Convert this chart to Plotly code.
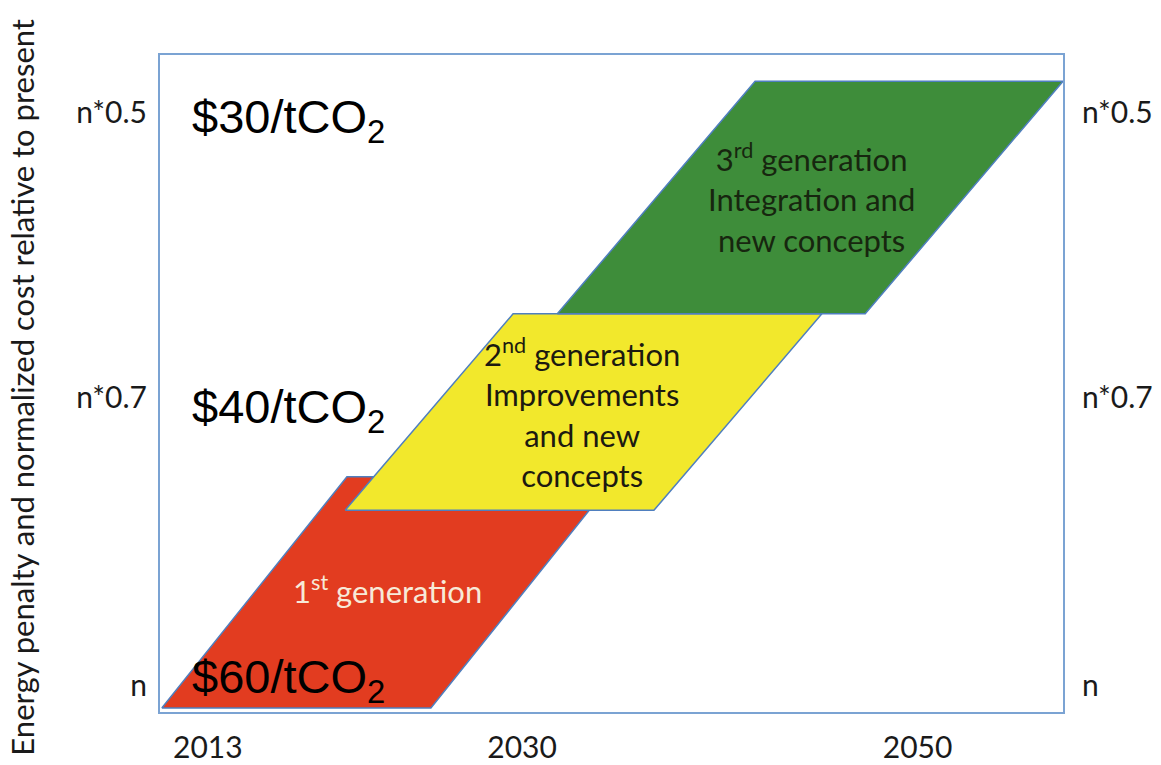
import plotly.graph_objects as go

# Technology generations drawn as slanted bands (x: time axis 0-100, y: cost axis 0-100)
gen_labels = [
    "1<sup>st</sup> generation",
    "2<sup>nd</sup> generation<br>Improvements<br>and new<br>concepts",
    "3<sup>rd</sup> generation<br>Integration and<br>new concepts",
]
gen_colors = ["#e23c20", "#f2e82c", "#3e8d3a"]
gen_text_colors = ["#f7ead8", "#1c1a10", "#17260f"]
base_y = [0.6, 30.7, 60.6]
top_y = [35.8, 60.6, 96.0]
base_left_x = [0.2, 20.5, 44.0]
top_left_x = [20.7, 39.1, 65.9]
band_width = [29.8, 34.2, 34.1]
label_x = [25.2, 46.7, 72.2]
label_y = [18.7, 45.5, 78.3]

# Axis ticks
year_ticks = [5.3, 40.1, 83.9]
year_labels = ["2013", "2030", "2050"]
cost_ticks = [4.0, 47.8, 91.3]
cost_labels = ["n", "n*0.7", "n*0.5"]

# Carbon price annotations
price_labels = ["$60/tCO<sub>2</sub>", "$40/tCO<sub>2</sub>", "$30/tCO<sub>2</sub>"]
price_y = [4.9, 46.0, 90.1]
price_x = 3.3

fig = go.Figure()

for i in range(len(gen_labels)):
    xs = [base_left_x[i], base_left_x[i] + band_width[i],
          top_left_x[i] + band_width[i], top_left_x[i], base_left_x[i]]
    ys = [base_y[i], base_y[i], top_y[i], top_y[i], base_y[i]]
    fig.add_trace(go.Scatter(
        x=xs, y=ys, mode="lines", fill="toself",
        fillcolor=gen_colors[i],
        line=dict(color="#4f7fbf", width=1.5),
        hoverinfo="skip", showlegend=False,
    ))
    fig.add_annotation(
        x=label_x[i], y=label_y[i], text=gen_labels[i], showarrow=False,
        font=dict(family="Lato", size=31, color=gen_text_colors[i]),
        xanchor="center", yanchor="middle", align="center",
    )

# invisible trace so the right-hand cost axis is drawn
fig.add_trace(go.Scatter(x=[0], y=[0], yaxis="y2", mode="markers",
                         marker=dict(opacity=0), hoverinfo="skip", showlegend=False))

for lbl, yv in zip(price_labels, price_y):
    fig.add_annotation(
        x=price_x, y=yv, text=lbl, showarrow=False,
        font=dict(family="Liberation Sans", size=47, color="#000000"),
        xanchor="left", yanchor="middle",
    )

fig.add_annotation(
    xref="paper", yref="paper", x=-0.153, y=0.495,
    text="Energy penalty and normalized cost relative to present",
    textangle=-90, showarrow=False,
    font=dict(family="Lato", size=31, color="#1a1a1a"),
    xanchor="center", yanchor="middle",
)

axis_font = dict(family="Lato", size=30, color="#1a1a1a")

fig.update_layout(
    template="none",
    width=1161, height=765,
    margin=dict(l=160, r=98, t=55, b=53, autoexpand=False),
    paper_bgcolor="#ffffff", plot_bgcolor="#ffffff",
    xaxis=dict(range=[0, 100], tickvals=year_ticks, ticktext=year_labels,
               showgrid=False, zeroline=False, showline=True, mirror=True,
               linecolor="#7ba3d3", linewidth=2, ticks="", tickfont=axis_font,
               ticklabelstandoff=8, automargin=False),
    yaxis=dict(range=[0, 100], tickvals=cost_ticks, ticktext=cost_labels,
               showgrid=False, zeroline=False, showline=True, mirror=True,
               linecolor="#7ba3d3", linewidth=2, ticks="", tickfont=axis_font,
               ticklabelstandoff=5, automargin=False),
    yaxis2=dict(range=[0, 100], tickvals=cost_ticks, ticktext=cost_labels,
                overlaying="y", side="right", showgrid=False, zeroline=False,
                showline=False, ticks="", tickfont=axis_font,
                ticklabelstandoff=18, automargin=False),
    showlegend=False,
)

fig.write_html("out.html")
